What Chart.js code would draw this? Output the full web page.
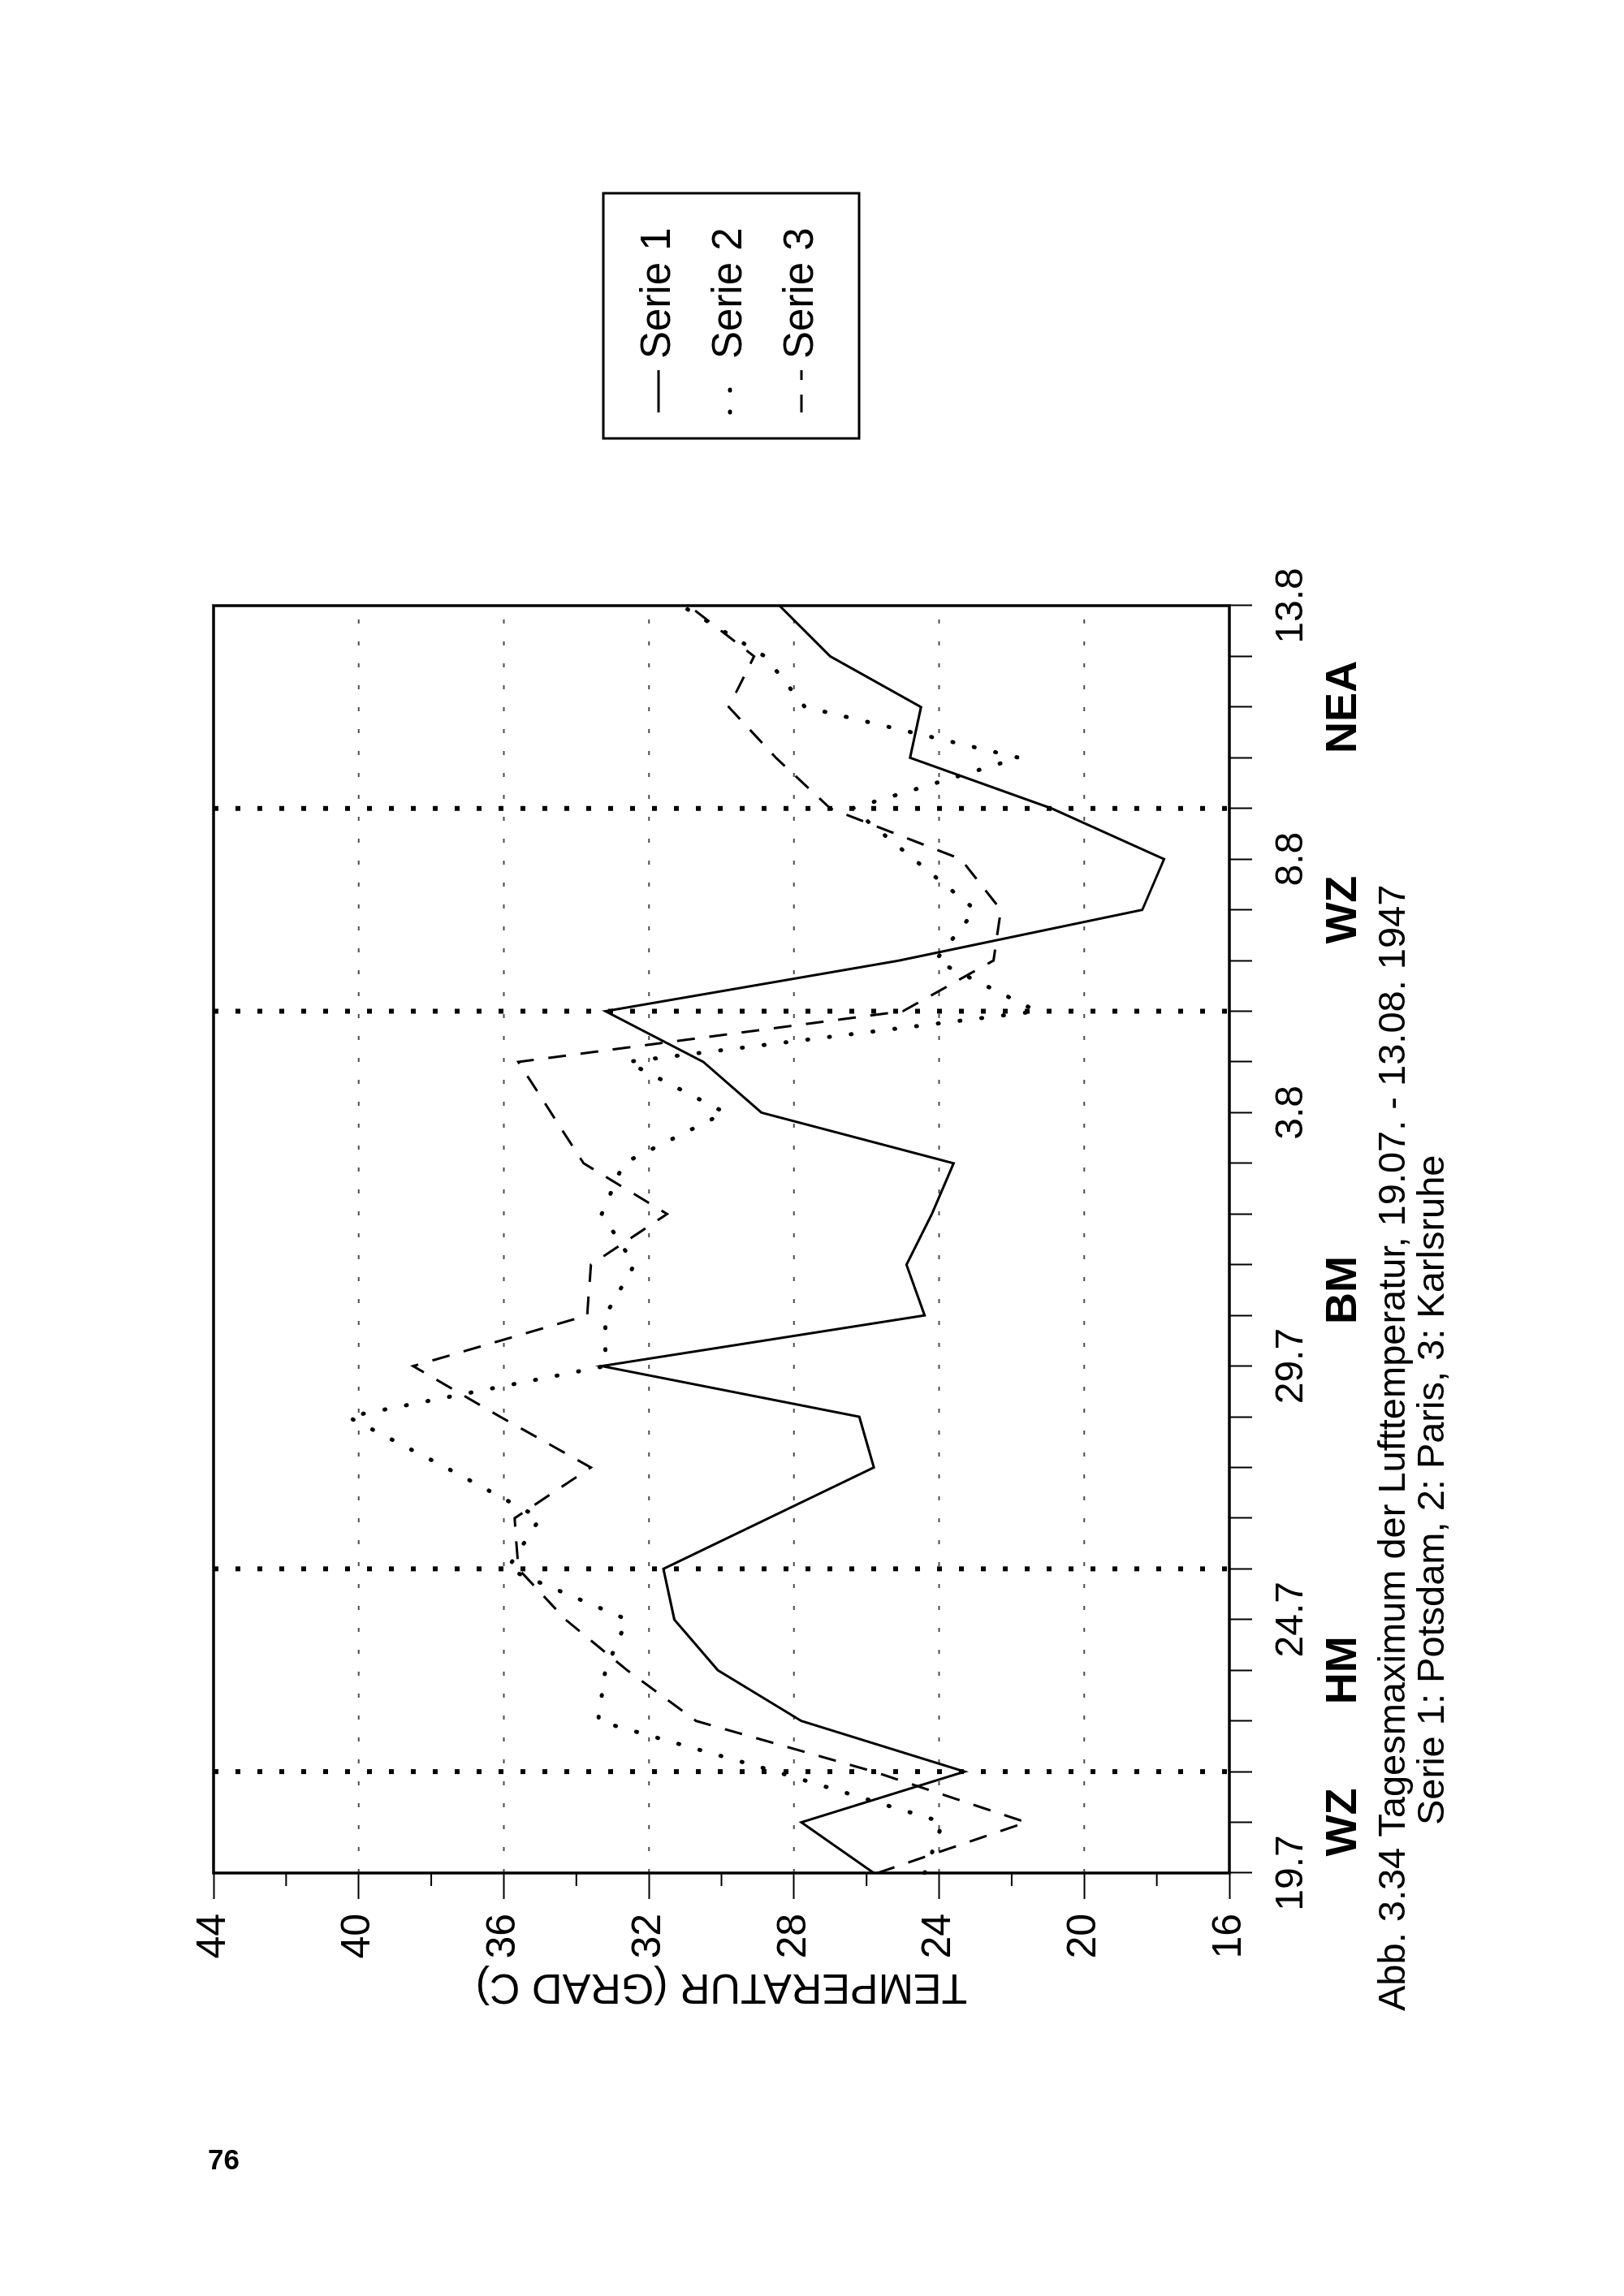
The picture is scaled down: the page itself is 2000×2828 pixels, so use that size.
<!DOCTYPE html>
<html>
<head>
<meta charset="utf-8">
<title>Tagesmaximum der Lufttemperatur 1947</title>
<script src="https://cdn.jsdelivr.net/npm/chart.js@4.4.1/dist/chart.umd.min.js"></script>
<style>
  html, body { margin: 0; padding: 0; background: #fff; }
  body { width: 2000px; height: 2828px; position: relative; overflow: hidden; }
  /* the printed page is landscape, turned counter-clockwise onto the portrait sheet */
  #page {
    position: absolute; left: 0; top: 0; width: 2828px; height: 2000px;
    transform-origin: 0 0; transform: translate(0px, 2828px) rotate(-90deg);
  }
  #chart { width: 2828px; height: 2000px; display: block; }
  #pageNo {
    position: absolute; left: 256px; top: 2642px;
    font: bold 35px "Liberation Sans", Arial, sans-serif; line-height: 1; color: #000;
  }
</style>
</head>
<body>
<div id="page"><canvas id="chart" width="2828" height="2000"></canvas></div>
<div id="pageNo">76</div>
<script>
// Tage 19.07. - 13.08.1947
const dayLabels = ['19.7', '20.7', '21.7', '22.7', '23.7', '24.7', '25.7', '26.7', '27.7', '28.7',
  '29.7', '30.7', '31.7', '1.8', '2.8', '3.8', '4.8', '5.8', '6.8', '7.8',
  '8.8', '9.8', '10.8', '11.8', '12.8', '13.8'];
const shownDates = ['19.7', '24.7', '29.7', '3.8', '8.8', '13.8'];

// Tagesmaximum (Grad C)
const potsdam = [25.8, 27.8, 23.3, 27.8, 30.1, 31.3, 31.6, 28.7, 25.8, 26.2, 33.3, 24.4, 24.9,
  24.2, 23.6, 28.9, 30.5, 33.2, 25.1, 18.4, 17.8, 20.9, 24.8, 24.5, 27.0, 28.4];
const paris = [24.4, 23.9, 28.5, 33.4, 33.2, 32.6, 35.9, 35.0, 37.6, 40.3, 33.2, 33.2, 32.4,
  33.3, 32.7, 29.9, 32.6, 21.3, 24.1, 23.0, 24.7, 26.4, 21.8, 27.7, 28.8, 31.1];
const karlsruhe = [25.7, 21.6, 25.8, 30.7, 32.6, 34.3, 35.6, 35.7, 33.6, 36.1, 38.5, 33.7, 33.6,
  31.5, 33.8, 34.7, 35.6, 25.0, 22.5, 22.3, 23.4, 27.0, 28.5, 29.8, 29.1, 30.9];
const seriesNames = ['Serie 1', 'Serie 2', 'Serie 3'];

// Grosswetterlagen und ihre Grenzen (Tagesindex)
const weatherTypes = ['WZ', 'HM', 'BM', 'WZ', 'NEA'];
const regimeBounds = [0, 2, 6, 17, 21, 25];

const yMin = 16, yMax = 44;
const yTitle = 'TEMPERATUR (GRAD C)';
const captionLine1 = 'Abb. 3.34 Tagesmaximum der Lufttemperatur, 19.07. - 13.08. 1947';
const captionLine2 = 'Serie 1: Potsdam, 2: Paris, 3: Karlsruhe';

const FONT = '"Liberation Sans", Arial, Helvetica, sans-serif';

function strokeLine(ctx, x1, y1, x2, y2) {
  ctx.beginPath();
  ctx.moveTo(x1, y1);
  ctx.lineTo(x2, y2);
  ctx.stroke();
}

// Gitter, Wetterlagen-Grenzen, Rahmen, Beschriftung, Legende
const pagePlugin = {
  id: 'pagePlugin',
  beforeDatasetsDraw(chart) {
    const { ctx, chartArea: a, scales: { x, y } } = chart;
    ctx.save();
    ctx.strokeStyle = 'rgba(0,0,0,0.7)';
    ctx.lineWidth = 2;
    ctx.setLineDash([5, 22]);
    y.ticks.forEach(t => {
      if (t.value % 4 === 0 && t.value > yMin && t.value < yMax) {
        const py = y.getPixelForValue(t.value);
        strokeLine(ctx, a.left, py, a.right, py);
      }
    });
    ctx.strokeStyle = '#000';
    ctx.lineWidth = 6;
    ctx.setLineDash([6, 21]);
    regimeBounds.slice(1, -1).forEach(d => {
      const px = x.getPixelForValue(d);
      strokeLine(ctx, px, a.top, px, a.bottom);
    });
    ctx.restore();
  },
  afterDraw(chart) {
    const { ctx, chartArea: a, scales: { x, y } } = chart;
    ctx.save();
    ctx.strokeStyle = '#000';
    ctx.fillStyle = '#000';

    // Rahmen
    ctx.setLineDash([]);
    ctx.lineWidth = 3.5;
    ctx.strokeRect(a.left, a.top, a.right - a.left, a.bottom - a.top);

    // kurze Zwischenstriche an der Temperaturachse
    ctx.lineWidth = 2;
    y.ticks.forEach(t => {
      if (t.value % 4 !== 0) {
        const py = y.getPixelForValue(t.value);
        strokeLine(ctx, a.left - 16, py, a.left, py);
      }
    });

    // Wetterlagen
    ctx.font = 'bold 54px ' + FONT;
    ctx.textAlign = 'center';
    ctx.textBaseline = 'alphabetic';
    weatherTypes.forEach((w, i) => {
      const mid = (regimeBounds[i] + regimeBounds[i + 1]) / 2;
      ctx.fillText(w, x.getPixelForValue(mid), 1670);
    });

    // Bildunterschrift
    ctx.font = '47px ' + FONT;
    ctx.textAlign = 'left';
    ctx.fillText(captionLine1, 351, 1730);
    ctx.fillText(captionLine2, 580, 1778);

    // Legende
    ctx.lineWidth = 3;
    ctx.strokeRect(2288, 743, 302, 315);
    ctx.font = '51px ' + FONT;
    ctx.textBaseline = 'middle';
    chart.data.datasets.forEach((ds, i) => {
      const cy = 811 + i * 88;
      ctx.save();
      ctx.lineWidth = ds.borderWidth;
      ctx.lineCap = ds.borderCapStyle || 'butt';
      ctx.setLineDash(ds.borderDash || []);
      strokeLine(ctx, 2320, cy, 2372, cy);
      ctx.restore();
      ctx.fillText(ds.label, 2386, cy);
    });
    ctx.restore();
  }
};

new Chart(document.getElementById('chart'), {
  type: 'line',
  data: {
    labels: dayLabels,
    datasets: [
      { label: seriesNames[0], data: potsdam, borderColor: '#000', borderWidth: 3,
        pointRadius: 0, tension: 0 },
      { label: seriesNames[1], data: paris, borderColor: '#000', borderWidth: 5,
        borderDash: [1, 26], borderCapStyle: 'round', pointRadius: 0, tension: 0 },
      { label: seriesNames[2], data: karlsruhe, borderColor: '#000', borderWidth: 3,
        borderDash: [22, 18], pointRadius: 0, tension: 0 }
    ]
  },
  options: {
    responsive: false,
    animation: false,
    devicePixelRatio: 1,
    layout: { padding: { left: 350, right: 746, top: 263, bottom: 0 } },
    plugins: { legend: { display: false }, tooltip: { enabled: false } },
    scales: {
      x: {
        type: 'category',
        offset: false,
        border: { display: false },
        grid: { drawOnChartArea: false, tickLength: 28, tickColor: '#000', tickWidth: 2 },
        ticks: {
          autoSkip: false,
          maxRotation: 0,
          padding: 20,
          color: '#000',
          font: { family: FONT, size: 48 },
          callback: function (value, index) {
            const l = dayLabels[index];
            return shownDates.includes(l) ? l : '';
          }
        },
        afterFit: function (scale) { scale.height = 486; }
      },
      y: {
        min: yMin,
        max: yMax,
        border: { display: false },
        grid: {
          drawOnChartArea: false,
          tickLength: 32,
          tickWidth: 2,
          tickColor: c => (c.tick && c.tick.value % 4 === 0) ? '#000' : 'rgba(0,0,0,0)'
        },
        ticks: {
          stepSize: 2,
          padding: 18,
          color: '#000',
          font: { family: FONT, size: 50 },
          callback: v => (v % 4 === 0 ? String(v) : '')
        },
        title: { display: true, text: yTitle, color: '#000', font: { family: FONT, size: 52 }, padding: 0 },
        afterFit: function (scale) { scale.width = 171; }
      }
    }
  },
  plugins: [pagePlugin]
});
</script>
</body>
</html>
